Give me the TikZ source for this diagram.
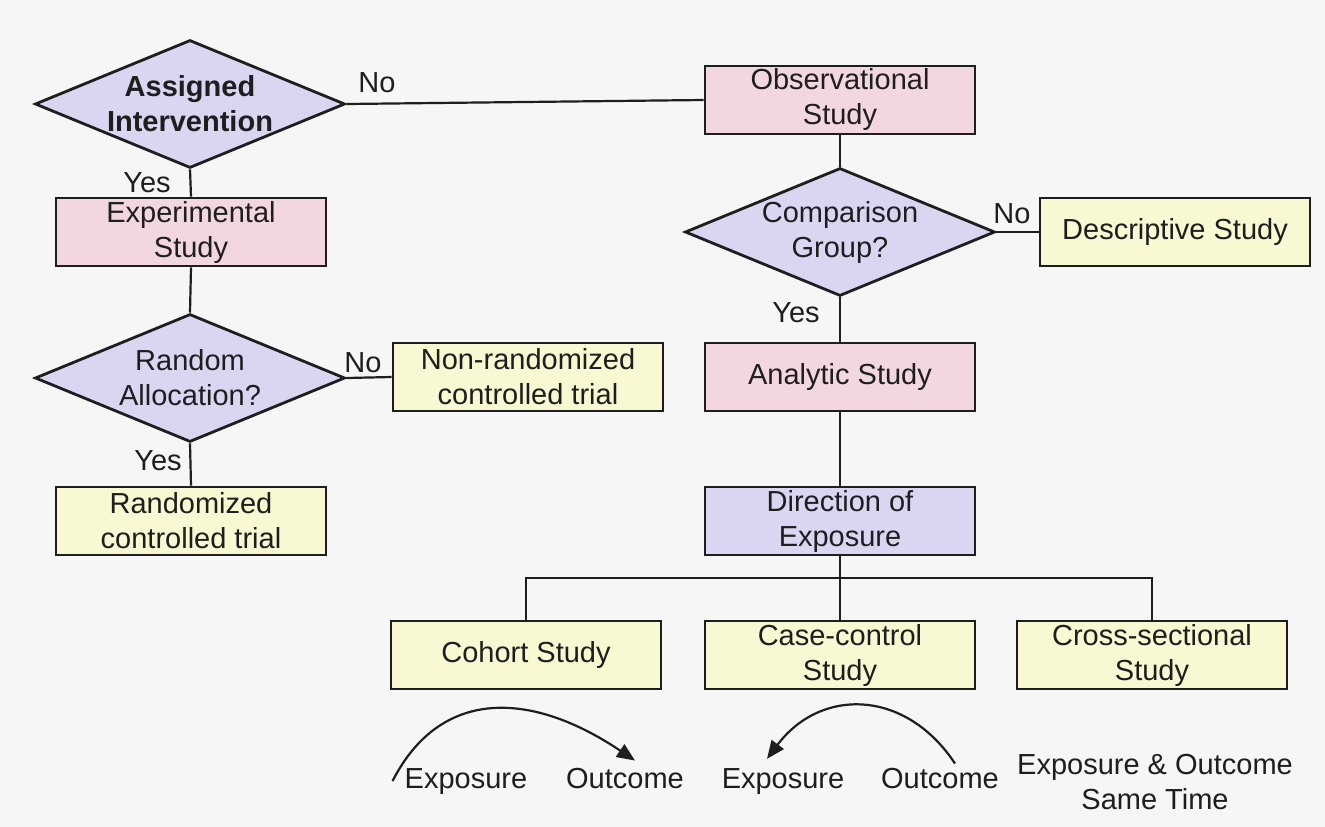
\documentclass[tikz,border=0pt]{standalone}
\usepackage{fontspec}
\setmainfont{Liberation Sans}
\usetikzlibrary{shapes.geometric,arrows.meta}
\definecolor{bg}{HTML}{F6F6F6}
\definecolor{pinkf}{HTML}{F3D7DF}
\definecolor{yelf}{HTML}{F8F8D2}
\definecolor{lavf}{HTML}{D9D6F2}
\definecolor{ink}{HTML}{1E1E1E}
\begin{document}
\begin{tikzpicture}[x=1pt,y=-1pt,
  every node/.style={font=\fontsize{29}{35}\selectfont, text=ink},
  box/.style={draw=ink, line width=2.8pt, minimum width=270pt, minimum height=68pt, inner sep=0pt, align=center},
  dia/.style={draw=ink, line width=2.8pt, diamond, minimum width=310pt, minimum height=128pt, inner sep=0pt, fill=lavf},
  dtext/.style={align=center, inner sep=0pt},
  lbl/.style={inner sep=0pt, anchor=base},
  conn/.style={draw=ink, line width=2.2pt},
  arr/.style={draw=ink, line width=2.2pt, -{Triangle[length=18pt,width=15pt]}},
]
\fill[bg] (0,0) rectangle (1325,827);
\useasboundingbox (0,0) rectangle (1325,827);

% left column
\node[dia] (d1) at (190,104) {};
\node[dtext, font=\fontsize{29}{35}\selectfont\bfseries] (d1t) at (d1) {Assigned\\Intervention};
\node[box, fill=pinkf] (exp) at (191,232) {Experimental\\Study};
\node[dia] (d2) at (190,378) {};
\node[dtext] (d2t) at (d2) {Random\\Allocation?};
\node[box, fill=yelf] (nrct) at (528,377) {Non-randomized\\controlled trial};
\node[box, fill=yelf] (rct) at (191,521) {Randomized\\controlled trial};

% right column
\node[box, fill=pinkf] (obs) at (840,100) {Observational\\Study};
\node[dia] (d3) at (840,232) {};
\node[dtext] (d3t) at (d3) {Comparison\\Group?};
\node[box, fill=yelf] (desc) at (1175,232) {Descriptive Study};
\node[box, fill=pinkf] (ana) at (840,377) {Analytic Study};
\node[box, fill=lavf] (dir) at (840,521) {Direction of\\Exposure};

\node[box, fill=yelf] (coh) at (526,655) {Cohort Study};
\node[box, fill=yelf] (cc) at (840,655) {Case-control\\Study};
\node[box, fill=yelf] (cs) at (1152,655) {Cross-sectional\\Study};

% connectors
\draw[conn] (d1.east) -- (obs.west);
\draw[conn] (d1.south) -- (exp.north);
\draw[conn] (exp.south) -- (d2.north);
\draw[conn] (d2.east) -- (nrct.west);
\draw[conn] (d2.south) -- (rct.north);
\draw[conn] (obs.south) -- (d3.north);
\draw[conn] (d3.east) -- (desc.west);
\draw[conn] (d3.south) -- (ana.north);
\draw[conn] (ana.south) -- (dir.north);
\coordinate (bus) at (840,578);
\draw[conn] (dir.south) -- (cc.north);
\draw[conn] (coh.north) |- (bus) -| (cs.north);

% branch labels
\node[lbl] (l1) at (377,92) {No};
\node[lbl] (l2) at (147,192) {Yes};
\node[lbl] (l3) at (363,372) {No};
\node[lbl] (l4) at (158,470) {Yes};
\node[lbl] (l5) at (1012,223) {No};
\node[lbl] (l6) at (796,322) {Yes};

% bottom row
\node[lbl] (e1) at (466,788) {Exposure};
\node[lbl] (o1) at (625,788) {Outcome};
\node[lbl] (e2) at (783,788) {Exposure};
\node[lbl] (o2) at (940,788) {Outcome};
\node[align=center, inner sep=0pt] (eo) at (1155,782) {Exposure \& Outcome\\Same Time};

\draw[arr] ([xshift=-12pt]e1.west) .. controls (440,688) and (530,690) .. ([xshift=10pt,yshift=7pt]o1.north);
\draw[arr] ([xshift=15pt,yshift=4pt]o2.north) .. controls (905,688) and (820,688) .. ([xshift=-16pt,yshift=9pt]e2.north);
\end{tikzpicture}
\end{document}
